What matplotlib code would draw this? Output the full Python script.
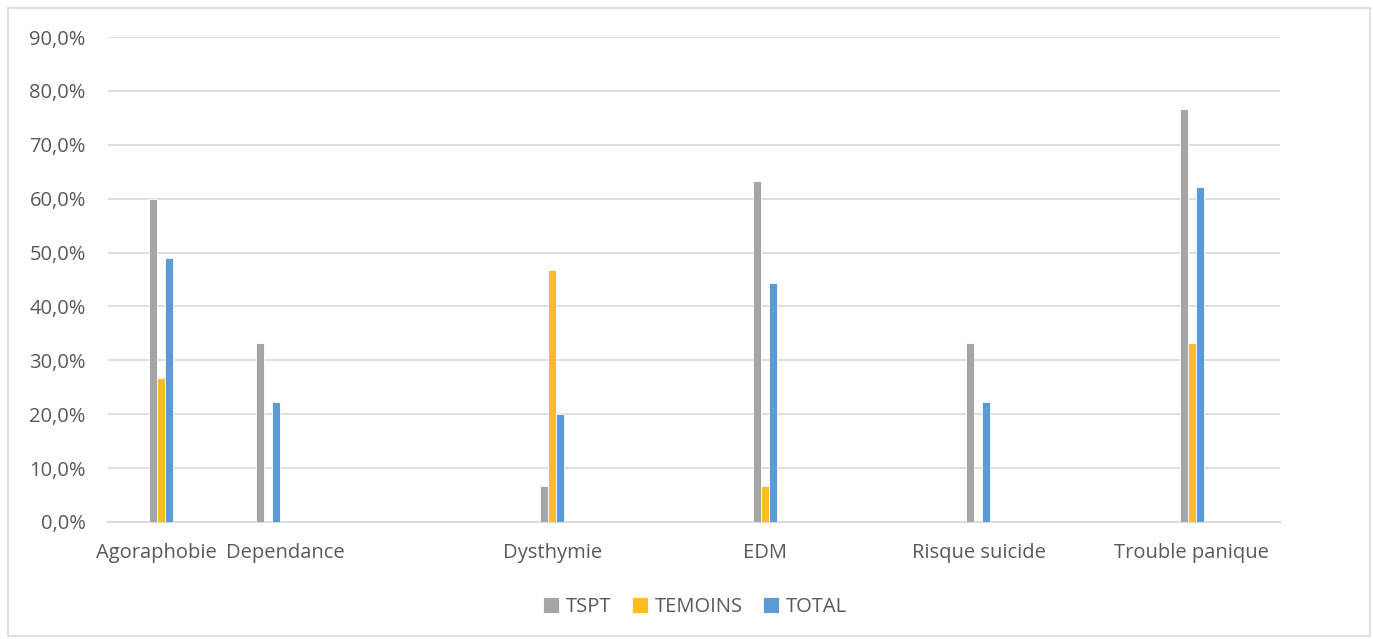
import numpy as np
import matplotlib
matplotlib.use("Agg")
import matplotlib.pyplot as plt
from matplotlib.patches import Rectangle
from matplotlib.ticker import FuncFormatter
import matplotlib.transforms as mtransforms

categories = ["Agoraphobie", "Dependance", "Dysthymie", "EDM",
              "Risque suicide", "Trouble panique"]
# category centres on the horizontal axis (slot units, as laid out in the source)
cat_pos = [0.5, 1.5, 4.17, 6.17, 8.17, 10.17]
series = ["TSPT", "TEMOINS", "TOTAL"]
tspt = [60.0, 33.3, 6.7, 63.3, 33.3, 76.7]
temoins = [26.7, 0.0, 46.7, 6.7, 0.0, 33.3]
total = [48.9, 22.2, 20.0, 44.4, 22.2, 62.2]
colors = ["#A5A5A5", "#FBBC25", "#5B9BD5"]

plt.rcParams["font.family"] = ["Open Sans", "DejaVu Sans"]
text_col = "#595959"
fs = 14.5

fig = plt.figure(figsize=(13.73, 6.39), dpi=100)
ax = fig.add_axes([108 / 1373, 1 - 522 / 639, 1172 / 1373, 485 / 639])

x = np.array(cat_pos)
w = 0.075
for i, (vals, c, name) in enumerate(zip([tspt, temoins, total], colors, series)):
    ax.bar(x + (i - 1) * w, vals, width=w, color=c, edgecolor="white",
           linewidth=0.6, label=name, zorder=3)

ax.set_xlim(0, 11.0)
ax.set_ylim(0, 90)
ax.set_yticks(np.arange(0, 91, 10))
ax.yaxis.set_major_formatter(FuncFormatter(lambda v, p: f"{v:.1f}%".replace(".", ",")))
ax.grid(axis="y", color="#D9D9D9", linewidth=1.2, zorder=0)
ax.set_axisbelow(True)
for s in ["top", "right", "left"]:
    ax.spines[s].set_visible(False)
ax.spines["bottom"].set_color("#D9D9D9")
ax.spines["bottom"].set_linewidth(1.4)
ax.tick_params(axis="both", length=0, colors=text_col, labelsize=fs)
ax.tick_params(axis="y", pad=16)
ax.tick_params(axis="x", pad=15)
ax.set_xticks(x)
ax.set_xticklabels(categories)
# the first two labels are nudged apart so they do not overlap
for lbl, dx in zip(ax.get_xticklabels()[:2], [-0.05, 0.17]):
    lbl.set_transform(lbl.get_transform() + mtransforms.ScaledTranslation(dx, 0, fig.dpi_scale_trans))

leg = fig.legend(loc="center", bbox_to_anchor=(695 / 1373, 1 - 607 / 639), ncol=3,
                 frameon=False, handlelength=0.8, handleheight=0.8,
                 handletextpad=0.35, columnspacing=1.0, fontsize=fs)
for t in leg.get_texts():
    t.set_color(text_col)

fig.patches.append(Rectangle((8 / 1373, 3 / 639), 1362 / 1373, 628 / 639,
                             transform=fig.transFigure, fill=False,
                             edgecolor="#D9D9D9", linewidth=1.2))

fig.savefig("out.png", dpi=100)
